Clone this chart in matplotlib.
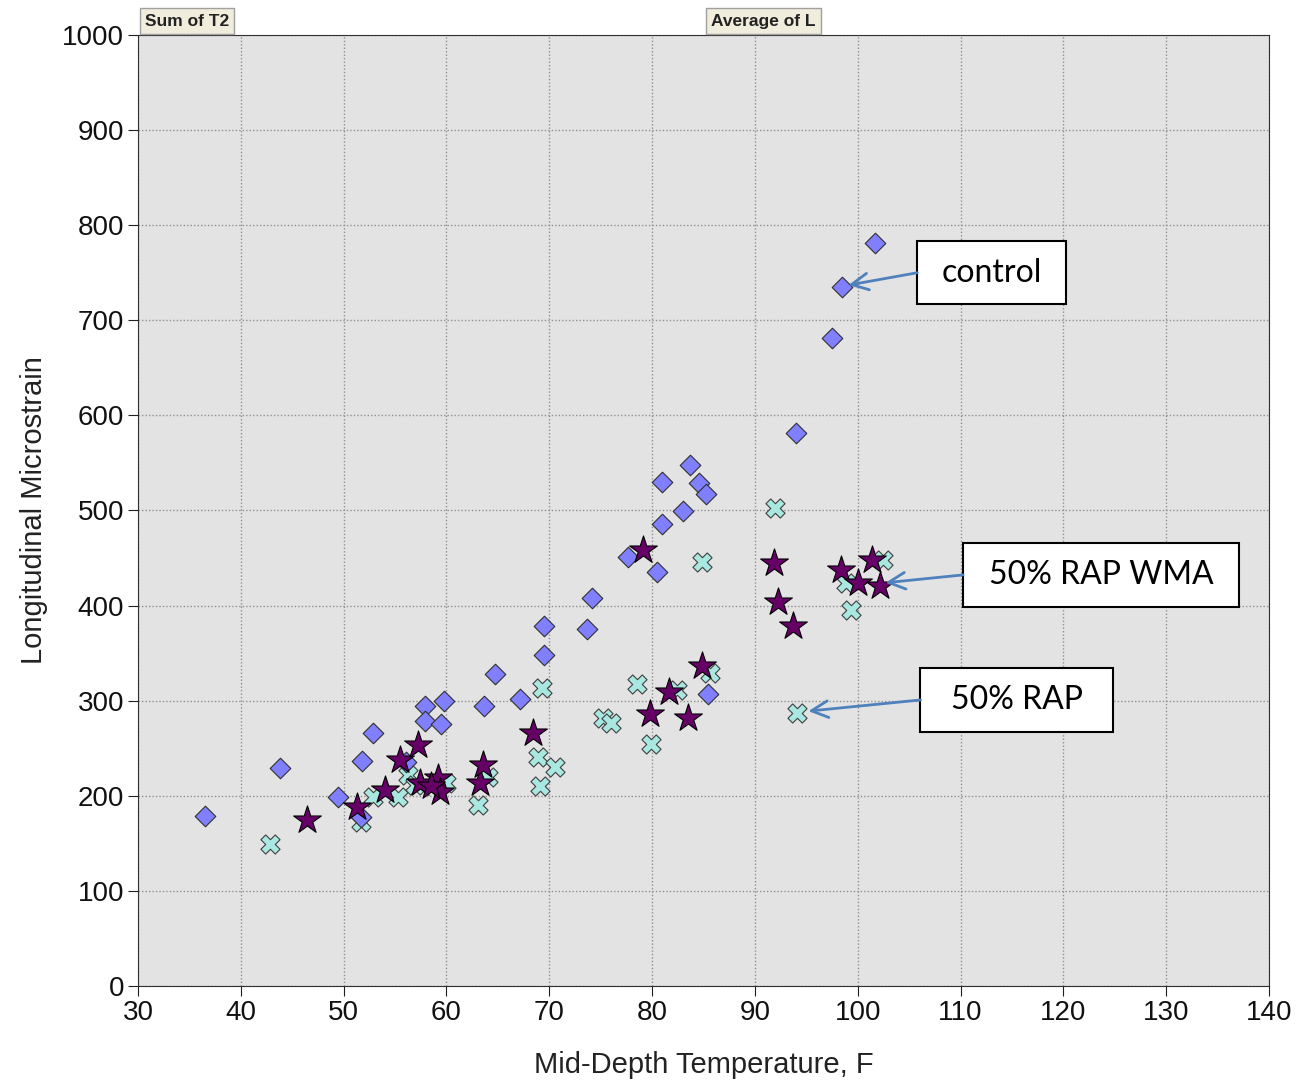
import numpy as np
import matplotlib.pyplot as plt
from matplotlib.patches import Rectangle

# control (diamonds)
ctrl_t = [36.5, 43.8, 49.5, 51.8, 51.7, 52.9, 56.1, 57.9, 57.9, 59.8, 59.5, 63.7, 64.7,
          67.2, 69.5, 69.5, 73.7, 74.2, 77.7, 80.5, 81.0, 81.0, 83.0, 83.7, 84.6, 85.2,
          85.4, 94.0, 97.5, 98.5, 101.7]
ctrl_s = [179, 229, 199, 237, 178, 266, 235, 294, 279, 300, 275, 294, 328,
          302, 348, 378, 375, 408, 451, 435, 486, 530, 499, 548, 529, 517,
          307, 581, 681, 735, 781]

# 50% RAP (x markers)
rap_t = [42.8, 51.7, 52.9, 55.3, 56.3, 56.9, 60.0, 64.0, 63.1, 68.9, 69.1, 69.3, 70.6,
         75.2, 76.0, 78.5, 79.9, 82.4, 85.6, 84.9, 92.0, 94.1, 98.9, 99.3, 102.5]
rap_s = [149, 172, 199, 199, 222, 211, 213, 220, 190, 241, 210, 313, 230,
         282, 277, 318, 254, 311, 329, 446, 503, 287, 424, 395, 448]

# 50% RAP WMA (stars)
wma_t = [46.4, 51.3, 54.0, 55.5, 57.2, 57.4, 59.2, 59.4, 58.5, 63.3, 63.6, 68.4, 79.1,
         79.8, 81.6, 83.5, 84.9, 91.9, 92.2, 93.7, 98.4, 100.0, 101.4, 102.2]
wma_s = [174, 188, 206, 238, 253, 213, 219, 204, 210, 213, 232, 266, 458,
         286, 309, 282, 336, 445, 404, 378, 437, 424, 448, 421]

labels = ['control', '50% RAP WMA', '50% RAP']

fig = plt.figure(figsize=(12.99, 10.83), dpi=100)
ax = fig.add_axes([0.1062, 0.0896, 0.8707, 0.8781])
ax.set_facecolor('#E3E3E3')

ax.scatter(rap_t, rap_s, marker='X', s=190, color='#A8E8E0', edgecolors='#404040',
           linewidths=0.8, zorder=3)
ax.scatter(ctrl_t, ctrl_s, marker='D', s=110, color='#8080FF', edgecolors='#303030',
           linewidths=0.8, zorder=4)
ax.scatter(wma_t, wma_s, marker='*', s=440, color='#660066', edgecolors='black',
           linewidths=0.8, zorder=5)

ax.set_xlim(30, 140)
ax.set_ylim(0, 1000)
ax.set_xticks(np.arange(30, 141, 10))
ax.set_yticks(np.arange(0, 1001, 100))
ax.grid(True, color='#909090', linestyle=(0, (1, 1.5)), linewidth=1)
ax.set_axisbelow(True)
ax.tick_params(length=7, color='#202020', pad=3)
for lab in ax.get_xticklabels() + ax.get_yticklabels():
    lab.set_family('Liberation Sans')
    lab.set_fontsize(20)
    lab.set_color('#111111')
for s in ax.spines.values():
    s.set_color('#303030')

ax.set_xlabel('Mid-Depth Temperature, F', fontsize=21, family='Liberation Sans',
              labelpad=18, color='#222222')
ax.set_ylabel('Longitudinal Microstrain', fontsize=21, family='Liberation Sans',
              labelpad=10, color='#222222')

# annotation boxes: (x0, x1, y0, y1) in data units, arrow tail -> head
boxes = [(105.8, 120.3, 717, 783), (110.25, 137.1, 398.5, 466), (106.1, 124.85, 267, 334.5)]
heads = [(99.1, 737), (102.7, 424), (95.2, 289)]
for lab, (x0, x1, y0, y1), (hx, hy) in zip(labels, boxes, heads):
    ax.add_patch(Rectangle((x0, y0), x1 - x0, y1 - y0, facecolor='white',
                           edgecolor='black', linewidth=1.5, zorder=6))
    ax.text((x0 + x1) / 2, (y0 + y1) / 2, lab, fontsize=23, family='Lato',
            ha='center', va='center', zorder=7)
    ax.annotate('', xy=(hx, hy), xytext=(x0, (y0 + y1) / 2),
                arrowprops=dict(arrowstyle='->', color='#4F81BD', linewidth=2,
                                mutation_scale=30, shrinkA=0, shrinkB=0), zorder=6)

hdr = dict(boxstyle='square,pad=0.3', facecolor='#F0EDDC', edgecolor='#A0A0A0')
fig.text(0.1115, 0.9805, 'Sum of T2', fontsize=12.5, fontweight='bold', va='center',
         bbox=hdr, family='Liberation Sans', color='#222222')
fig.text(0.5475, 0.9805, 'Average of L', fontsize=12.5, fontweight='bold', va='center',
         bbox=hdr, family='Liberation Sans', color='#222222')

fig.savefig('out.png', dpi=100)
